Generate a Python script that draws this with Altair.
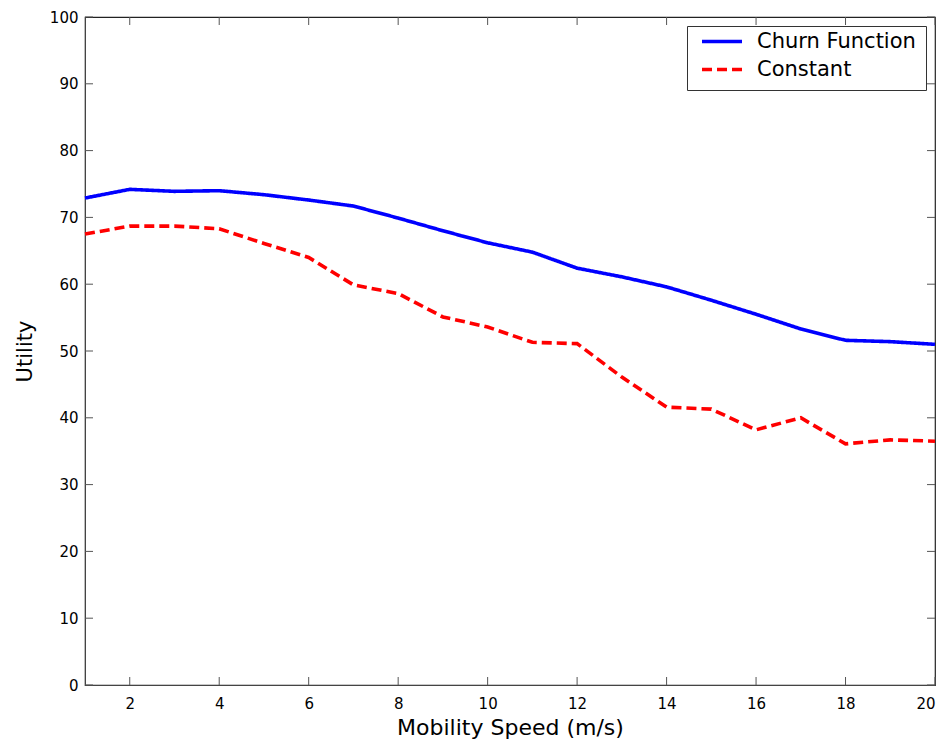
import altair as alt
import pandas as pd

speed = list(range(1, 21))
churn = [72.9, 74.2, 73.9, 74.0, 73.4, 72.6, 71.7, 69.9, 68.0, 66.2, 64.8, 62.4, 61.1, 59.6, 57.6, 55.5, 53.3, 51.6, 51.4, 51.0]
constant = [67.5, 68.7, 68.7, 68.3, 66.1, 64.0, 59.9, 58.6, 55.1, 53.6, 51.3, 51.1, 46.1, 41.6, 41.3, 38.2, 40.0, 36.1, 36.7, 36.5]
series_names = ["Churn Function", "Constant"]
x_ticks = list(range(2, 21, 2))
y_ticks = list(range(0, 101, 10))

W, H = 850, 668
FONT = "DejaVu Sans"

df = pd.DataFrame({
    "speed": speed * 2,
    "utility": churn + constant,
    "series": [series_names[0]] * len(speed) + [series_names[1]] * len(speed),
})
xt = pd.DataFrame({"speed": x_ticks})
yt = pd.DataFrame({"utility": y_ticks})

xscale = alt.Scale(domain=[1, 20], nice=False, zero=False)
yscale = alt.Scale(domain=[0, 100], nice=False)

xaxis = alt.Axis(values=x_ticks, ticks=False, grid=False, labelFontSize=15, labelFont=FONT,
                 labelPadding=11, titleFontSize=22, titleFont=FONT, titlePadding=6,
                 titleFontWeight="normal", labelColor="black", titleColor="black",
                 domainColor="#444444")
yaxis = alt.Axis(values=y_ticks, ticks=False, grid=False, labelFontSize=15, labelFont=FONT,
                 labelPadding=7, titleFontSize=21, titleFont=FONT, titlePadding=14,
                 titleFontWeight="normal", labelColor="black", titleColor="black",
                 domainColor="#444444")
XT = "Mobility Speed (m/s)"
YT = "Utility"

lines = alt.Chart(df).mark_line(strokeWidth=3.6).encode(
    x=alt.X("speed:Q", scale=xscale, title=XT, axis=xaxis),
    y=alt.Y("utility:Q", scale=yscale, title=YT, axis=yaxis),
    color=alt.Color("series:N", scale=alt.Scale(domain=series_names, range=["#0000ff", "#ff0000"]),
                    legend=alt.Legend(title=None, orient="none", legendX=602, legendY=9,
                                      symbolType="stroke", symbolSize=1600, symbolStrokeWidth=3.6,
                                      labelFontSize=21, labelFont=FONT, labelColor="black",
                                      strokeColor="#333333", fillColor="white", padding=10,
                                      clipHeight=11, rowPadding=6,
                                      labelOffset=13, symbolOffset=3, labelLimit=300)),
    strokeDash=alt.StrokeDash("series:N", scale=alt.Scale(domain=series_names, range=[[1, 0], [10, 5]]),
                              legend=None),
)

tick_color = "#555555"
bx = alt.Chart(xt).mark_rule(color=tick_color).encode(
    x=alt.X("speed:Q", scale=xscale, title=XT, axis=xaxis), y=alt.value(H), y2=alt.value(H - 8))
tx = alt.Chart(xt).mark_rule(color=tick_color).encode(
    x=alt.X("speed:Q", scale=xscale, title=XT, axis=xaxis), y=alt.value(0), y2=alt.value(8))
ly = alt.Chart(yt).mark_rule(color=tick_color).encode(
    y=alt.Y("utility:Q", scale=yscale, title=YT, axis=yaxis), x=alt.value(0), x2=alt.value(8))
ry = alt.Chart(yt).mark_rule(color=tick_color).encode(
    y=alt.Y("utility:Q", scale=yscale, title=YT, axis=yaxis), x=alt.value(W), x2=alt.value(W - 8))

chart = alt.layer(lines, bx, tx, ly, ry).properties(
    width=W, height=H,
    autosize=alt.AutoSizeParams(type="none"),
    padding={"left": 85, "top": 17, "right": 12, "bottom": 58},
    background="white",
).configure(
    font=FONT,
    view=alt.ViewConfig(stroke="#222222", strokeWidth=1.2),
)

chart.save("out.html", embed_options={"renderer": "svg", "actions": False})
